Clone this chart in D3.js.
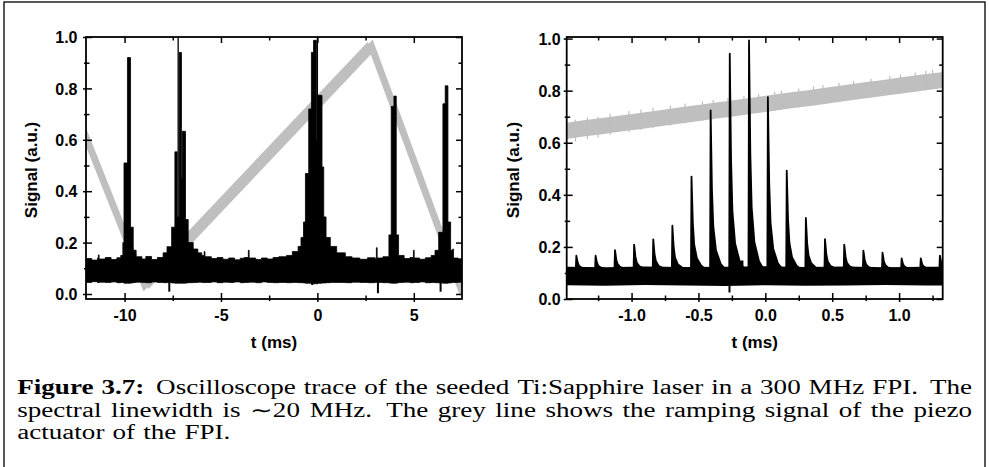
<!DOCTYPE html>
<html>
<head>
<meta charset="utf-8">
<script src="https://cdn.jsdelivr.net/npm/d3@7/dist/d3.min.js"></script>
<style>
html,body{margin:0;padding:0;background:#fff;}
svg{display:block;}
</style>
</head>
<body>
<svg id="fig" width="989" height="467"></svg>
<script>
// ===================== DATA =====================
// shared y ticks
const yMajorTicks = [0.0, 0.2, 0.4, 0.6, 0.8, 1.0];
const yMinorTicks = [0.1, 0.3, 0.5, 0.7, 0.9];

// ---------- left panel (t in ms) ----------
const leftXDomain = [-12, 7.5];
const leftYDomain = [-0.0195, 1.0];
const leftXMajorTicks = [-10, -5, 0, 5];
const leftXMinorTicks = [-7.5, -2.5, 2.5];
// grey piezo ramp (vertices)
const leftRampT = [-12.3, -8.95, 2.8, 7.55];
const leftRampV = [0.667, 0.035, 0.965, 0.0];
// black oscilloscope trace: min/max envelope (step after each t)
const leftEnvT = [-12.0, -11.7, -11.4, -11.36, -11.32, -11.0, -10.7, -10.4, -10.2, -10.09, -10.05, -10.03, -9.85, -9.69, -9.55, -9.4, -9.1, -8.9, -8.6, -8.3, -8.0, -7.8, -7.56, -7.39, -7.27, -7.17, -7.05, -7.01, -6.84, -6.70, -6.44, -6.2, -6.0, -5.87, -5.83, -5.5, -5.2, -4.9, -4.6, -4.3, -4.0, -3.8, -3.58, -3.54, -3.2, -2.9, -2.6, -2.3, -2.0, -1.6, -1.3, -1.0, -0.85, -0.72, -0.62, -0.45, -0.31, -0.2, -0.05, 0.03, 0.24, 0.33, 0.45, 0.67, 1.0, 1.45, 1.8, 2.2, 2.6, 3.0, 3.06, 3.1, 3.4, 3.71, 3.83, 3.97, 4.09, 4.21, 4.5, 4.8, 4.98, 5.02, 5.3, 5.6, 5.9, 6.1, 6.29, 6.51, 6.63, 6.77, 6.91, 7.02, 7.06, 7.3, 7.5];
const leftEnvHi = [0.138, 0.132, 0.140, 0.152, 0.136, 0.142, 0.134, 0.141, 0.150, 0.200, 0.160, 0.510, 0.920, 0.260, 0.170, 0.145, 0.136, 0.146, 0.134, 0.142, 0.160, 0.184, 0.260, 0.553, 0.300, 0.940, 0.450, 0.633, 0.290, 0.200, 0.175, 0.160, 0.150, 0.165, 0.145, 0.138, 0.142, 0.135, 0.140, 0.133, 0.139, 0.142, 0.170, 0.140, 0.134, 0.140, 0.136, 0.142, 0.145, 0.150, 0.165, 0.185, 0.220, 0.280, 0.469, 0.720, 0.940, 0.987, 0.600, 0.773, 0.494, 0.300, 0.220, 0.185, 0.160, 0.145, 0.140, 0.135, 0.141, 0.136, 0.180, 0.140, 0.145, 0.230, 0.730, 0.770, 0.230, 0.150, 0.138, 0.142, 0.170, 0.140, 0.135, 0.141, 0.150, 0.170, 0.240, 0.740, 0.810, 0.280, 0.170, 0.175, 0.140, 0.137, 0.137];
const leftEnvLo = [0.045, 0.048, 0.044, 0.044, 0.046, 0.045, 0.047, 0.044, 0.045, 0.044, 0.044, 0.042, 0.042, 0.043, 0.045, 0.046, 0.045, 0.044, 0.047, 0.045, 0.044, 0.045, 0.043, 0.042, 0.042, 0.042, 0.043, 0.042, 0.043, 0.044, 0.045, 0.046, 0.045, 0.044, 0.045, 0.047, 0.044, 0.046, 0.045, 0.047, 0.044, 0.045, 0.045, 0.046, 0.044, 0.047, 0.045, 0.044, 0.045, 0.044, 0.045, 0.044, 0.044, 0.043, 0.042, 0.042, 0.040, 0.040, 0.040, 0.042, 0.043, 0.043, 0.044, 0.045, 0.045, 0.044, 0.046, 0.045, 0.044, 0.046, 0.045, 0.045, 0.044, 0.043, 0.042, 0.042, 0.043, 0.045, 0.046, 0.044, 0.044, 0.045, 0.047, 0.044, 0.045, 0.044, 0.043, 0.042, 0.042, 0.043, 0.044, 0.045, 0.045, 0.046, 0.046];
// thin full-height spikes
const leftSpikeT = [-7.22, 0.0];
const leftSpikeV = [1.02, 1.02];
// downward glitches
const leftDipT = [-7.68, -0.27, 3.14, 6.39];
const leftDipV = [0.009, 0.035, 0.003, 0.009];

// ---------- right panel (t in ms) ----------
const rightXDomain = [-1.485, 1.326];
const rightYDomain = [0, 1.006];
const rightXMajorTicks = [-1.0, -0.5, 0.0, 0.5, 1.0];
const rightXMinorTicks = [-1.25, -0.75, -0.25, 0.25, 0.75, 1.25];
// grey ramp band
const rightRampT  = [-1.485, -1.36, -1.22, -1.08, -0.94, -0.80, -0.66, -0.52, -0.38, -0.24, -0.10, 0.04, 0.18, 0.32, 0.46, 0.60, 0.74, 0.88, 1.02, 1.16, 1.30, 1.326];
const rightRampHi = [0.677, 0.686, 0.695, 0.705, 0.714, 0.724, 0.734, 0.744, 0.754, 0.763, 0.773, 0.783, 0.793, 0.802, 0.812, 0.822, 0.832, 0.841, 0.851, 0.861, 0.870, 0.872];
const rightRampLo = [0.614, 0.624, 0.633, 0.643, 0.652, 0.662, 0.672, 0.682, 0.692, 0.701, 0.711, 0.721, 0.731, 0.740, 0.750, 0.760, 0.770, 0.779, 0.789, 0.799, 0.808, 0.810];
// hair-line noise on the grey band edges
const rightRampHairT = [-1.42, -1.33, -1.25, -1.16, -1.02, -0.93, -0.84, -0.71, -0.60, -0.47, -0.39, -0.28, -0.16, -0.05, 0.07, 0.12, 0.25, 0.36, 0.43, 0.55, 0.66, 0.79, 0.93, 1.01, 1.12, 1.20, 1.25];
const rightRampHairV = [0.688, 0.697, 0.700, 0.712, 0.722, 0.728, 0.735, 0.742, 0.751, 0.759, 0.764, 0.772, 0.780, 0.787, 0.796, 0.801, 0.808, 0.817, 0.822, 0.830, 0.838, 0.846, 0.857, 0.862, 0.870, 0.876, 0.880];
const rightRampHairLoV = [0.605, 0.614, 0.62, 0.63, 0.64, 0.65, 0.656, 0.665, 0.675, 0.684, 0.69, 0.697, 0.706, 0.714, 0.722, 0.727, 0.735, 0.743, 0.749, 0.757, 0.765, 0.774, 0.783, 0.789, 0.796, 0.802, 0.806];
// black baseline band
const rightBandT  = [-1.485, -1.2, -0.9, -0.6, -0.3, 0.0, 0.3, 0.6, 0.9, 1.2, 1.326];
const rightBandHi = [0.124, 0.122, 0.125, 0.123, 0.124, 0.126, 0.123, 0.125, 0.122, 0.124, 0.124];
const rightBandLo = [0.053, 0.051, 0.054, 0.052, 0.050, 0.053, 0.051, 0.052, 0.054, 0.052, 0.052];
// FPI transmission peaks
const rightPeakT = [-1.413, -1.269, -1.124, -0.981, -0.838, -0.695, -0.552, -0.409, -0.266, -0.122, 0.019, 0.160, 0.303, 0.446, 0.590, 0.733, 0.876, 1.019, 1.162, 1.305];
const rightPeakV = [0.166, 0.166, 0.188, 0.209, 0.229, 0.282, 0.470, 0.724, 0.942, 0.993, 0.775, 0.493, 0.311, 0.230, 0.209, 0.186, 0.178, 0.156, 0.156, 0.166];
// peak profile (offset in ms, fraction of peak height)
const peakTailDt = [-0.004, 0.0, 0.01, 0.02, 0.04, 0.075, 0.11];
const peakTailFrac = [0, 1, 0.5, 0.27, 0.12, 0.035, 0];
const rightDipT = [-0.268];
const rightDipV = [0.025];
const rightBumpT = [-0.175];
const rightBumpV = [0.148];

// ---------- caption ----------
const captionLine1 = ["Figure", "3.7:", "Oscilloscope", "trace", "of", "the", "seeded", "Ti:Sapphire", "laser", "in", "a", "300", "MHz", "FPI.", "The"];
const captionLine1Bold = 2;
const captionLine2 = ["spectral", "linewidth", "is", "\u223C20", "MHz.", "The", "grey", "line", "shows", "the", "ramping", "signal", "of", "the", "piezo"];
const captionLine3 = ["actuator", "of", "the", "FPI."];

// ===================== DRAWING =====================
const svg = d3.select('#fig');
const GREY = '#bfbfbf';
const SANS = "'Liberation Sans', Arial, Helvetica, sans-serif";

// outer figure frame
svg.append('rect').attr('x', 4).attr('y', 2).attr('width', 981).attr('height', 490)
  .attr('fill', 'none').attr('stroke', '#111').attr('stroke-width', 1.4);

function makePanel(id, xDomain, yDomain, xRange) {
  const x = d3.scaleLinear().domain(xDomain).range(xRange);
  const y = d3.scaleLinear().domain(yDomain).range([299, 37]);
  const g = svg.append('g');
  const defs = svg.append('defs');
  defs.append('clipPath').attr('id', id).append('rect')
    .attr('x', xRange[0]).attr('y', 37).attr('width', xRange[1] - xRange[0]).attr('height', 262);
  const plot = g.append('g').attr('clip-path', `url(#${id})`);
  return {x, y, g, plot};
}

function drawAxes(P, o) {
  const {x, y, g} = P;
  const [x0, x1] = x.range();
  const yb = 299, yt = 37;
  const styleText = sel => sel.selectAll('.tick text')
    .attr('font-family', SANS).attr('font-size', 16).attr('font-weight', 'bold').attr('fill', '#000');
  const clean = sel => { sel.select('.domain').remove(); sel.attr('font-family', null).attr('font-size', null); };

  const bx = g.append('g').attr('transform', `translate(0,${yb})`)
    .call(d3.axisBottom(x).tickValues(o.xMajor).tickFormat(o.xFmt).tickSizeOuter(0));
  clean(bx);
  bx.selectAll('.tick line').attr('y1', 3).attr('y2', -6).attr('stroke-width', 1.5);
  bx.selectAll('.tick text').attr('y', 10.3).attr('dy', '0.71em');
  styleText(bx);
  const bm = g.append('g').attr('transform', `translate(0,${yb})`)
    .call(d3.axisBottom(x).tickValues(o.xMinor).tickFormat('').tickSizeOuter(0));
  clean(bm);
  bm.selectAll('.tick line').attr('y1', 2).attr('y2', -3.5).attr('stroke-width', 1.5);
  [[o.xMajor, 6], [o.xMinor, 3.5]].forEach(([vals, len]) => {
    const t = g.append('g').attr('transform', `translate(0,${yt})`)
      .call(d3.axisTop(x).tickValues(vals).tickFormat('').tickSizeInner(-len).tickSizeOuter(0));
    clean(t);
    t.selectAll('.tick line').attr('stroke-width', 1.5);
  });
  const ly = g.append('g').attr('transform', `translate(${x0},0)`)
    .call(d3.axisLeft(y).tickValues(yMajorTicks).tickFormat(d => d.toFixed(1)).tickSizeOuter(0));
  clean(ly);
  ly.selectAll('.tick line').attr('x1', -3).attr('x2', 6).attr('stroke-width', 1.5);
  ly.selectAll('.tick text').attr('x', -o.yLabelGap).attr('dy', '0.36em');
  styleText(ly);
  const lm = g.append('g').attr('transform', `translate(${x0},0)`)
    .call(d3.axisLeft(y).tickValues(yMinorTicks).tickFormat('').tickSizeOuter(0));
  clean(lm);
  lm.selectAll('.tick line').attr('x1', -2).attr('x2', 3.5).attr('stroke-width', 1.5);
  [[yMajorTicks, 6], [yMinorTicks, 3.5]].forEach(([vals, len]) => {
    const r = g.append('g').attr('transform', `translate(${x1},0)`)
      .call(d3.axisRight(y).tickValues(vals).tickFormat('').tickSizeInner(-len).tickSizeOuter(0));
    clean(r);
    r.selectAll('.tick line').attr('stroke-width', 1.5);
  });
  g.append('rect').attr('x', x0).attr('y', yt).attr('width', x1 - x0).attr('height', yb - yt)
    .attr('fill', 'none').attr('stroke', '#000').attr('stroke-width', 1.8);
  g.append('text').attr('x', (x0 + x1) / 2).attr('y', 348).attr('text-anchor', 'middle')
    .attr('font-family', SANS).attr('font-size', 17).attr('font-weight', 'bold').text('t (ms)');
  g.append('text').attr('transform', `translate(${o.yTitleX},170) rotate(-90)`).attr('text-anchor', 'middle')
    .attr('font-family', SANS).attr('font-size', 17).attr('font-weight', 'bold').text('Signal (a.u.)');
}

// ---------- LEFT PANEL ----------
const L = makePanel('clipL', leftXDomain, leftYDomain, [86, 462]);
{
  const {x, y, plot} = L;
  const ramp = leftRampT.map((t, i) => [x(t), y(leftRampV[i])]);
  plot.append('path').attr('d', d3.line()(ramp)).attr('fill', 'none').attr('stroke', GREY)
    .attr('stroke-width', 7).attr('stroke-linejoin', 'miter').attr('stroke-miterlimit', 10);
  plot.append('path').attr('d', d3.line()(ramp.slice(1, 3))).attr('fill', 'none').attr('stroke', GREY)
    .attr('stroke-width', 11).attr('stroke-linecap', 'butt');

  const env = leftEnvT.map((t, i) => ({t, hi: leftEnvHi[i], lo: leftEnvLo[i]}));
  plot.append('path').datum(env)
    .attr('d', d3.area().curve(d3.curveStepAfter).x(d => x(d.t)).y0(d => y(d.lo)).y1(d => y(d.hi)))
    .attr('fill', '#000').attr('stroke', '#000').attr('stroke-width', 0.8);
  plot.selectAll('line.spk').data(leftSpikeT).join('line').attr('class', 'spk')
    .attr('x1', d => x(d)).attr('x2', d => x(d)).attr('y1', y(0.12)).attr('y2', (d, i) => y(leftSpikeV[i]))
    .attr('stroke', '#000').attr('stroke-width', 1.3);
  plot.selectAll('line.dip').data(leftDipT).join('line').attr('class', 'dip')
    .attr('x1', d => x(d)).attr('x2', d => x(d)).attr('y1', y(0.06)).attr('y2', (d, i) => y(leftDipV[i]))
    .attr('stroke', '#000').attr('stroke-width', 2);
}
drawAxes(L, {xMajor: leftXMajorTicks, xMinor: leftXMinorTicks, xFmt: d => String(d), yLabelGap: 8.5, yTitleX: 37});

// ---------- RIGHT PANEL ----------
const R = makePanel('clipR', rightXDomain, rightYDomain, [566.7, 942.7]);
{
  const {x, y, plot} = R;
  const ramp = rightRampT.map((t, i) => ({t, hi: rightRampHi[i], lo: rightRampLo[i]}));
  plot.append('path').datum(ramp)
    .attr('d', d3.area().x(d => x(d.t)).y0(d => y(d.lo)).y1(d => y(d.hi)))
    .attr('fill', GREY);
  plot.selectAll('line.rh').data(rightRampHairT).join('line').attr('class', 'rh')
    .attr('x1', d => x(d)).attr('x2', d => x(d))
    .attr('y1', (d, i) => y(rightRampHairV[i])).attr('y2', (d, i) => y(rightRampHairLoV[i]))
    .attr('stroke', GREY).attr('stroke-width', 1.2);

  const band = rightBandT.map((t, i) => ({t, hi: rightBandHi[i], lo: rightBandLo[i]}));
  plot.append('path').datum(band)
    .attr('d', d3.area().x(d => x(d.t)).y0(d => y(d.lo)).y1(d => y(d.hi)))
    .attr('fill', '#000');
  const base = d3.mean(rightBandHi);
  const line = d3.line();
  rightPeakT.forEach((t0, i) => {
    const v = rightPeakV[i];
    const pts = peakTailDt.map((dt, j) => [x(t0 + dt), y(base - 0.01 + peakTailFrac[j] * (v - base + 0.01))]);
    plot.append('path').attr('d', line(pts) + 'Z').attr('fill', '#000').attr('stroke', '#000')
      .attr('stroke-width', 1.8).attr('stroke-linejoin', 'round');
  });
  plot.selectAll('line.bump').data(rightBumpT).join('line').attr('class', 'bump')
    .attr('x1', d => x(d)).attr('x2', d => x(d)).attr('y1', y(base)).attr('y2', (d, i) => y(rightBumpV[i]))
    .attr('stroke', '#000').attr('stroke-width', 3);
  plot.selectAll('line.dip').data(rightDipT).join('line').attr('class', 'dip')
    .attr('x1', d => x(d)).attr('x2', d => x(d)).attr('y1', y(0.06)).attr('y2', (d, i) => y(rightDipV[i]))
    .attr('stroke', '#000').attr('stroke-width', 2);
}
drawAxes(R, {xMajor: rightXMajorTicks, xMinor: rightXMinorTicks, xFmt: d => d.toFixed(1), yLabelGap: 6, yTitleX: 519});

// ---------- CAPTION ----------
const CAP_FONT = "'Liberation Serif', 'Times New Roman', serif";
const CAP_SIZE = 20;
const capG = svg.append('g');
function measure(word, bold) {
  const t = capG.append('text').attr('font-family', CAP_FONT).attr('font-size', CAP_SIZE)
    .attr('font-weight', bold ? 'bold' : 'normal').text(word);
  const w = t.node().getComputedTextLength();
  t.remove();
  return w;
}
const capLeft = 17.3, capRight = 972, line3Width = 213;
const space = 0.3 * CAP_SIZE;
const w3 = captionLine3.map(w => measure(w, false));
const k = line3Width / (d3.sum(w3) + space * (w3.length - 1));

function placeLine(words, nBold, baseline, justify) {
  const widths = words.map((w, i) => measure(w, i < nBold));
  const gaps = words.slice(0, -1).map(w => /[.:]$/.test(w) ? 1.5 : 1);
  let unit = space;
  if (justify) {
    const total = (capRight - capLeft) / k;
    unit = (total - d3.sum(widths)) / d3.sum(gaps);
  }
  const lg = capG.append('g').attr('transform', `translate(${capLeft},${baseline}) scale(${k},1)`);
  let xpos = 0;
  words.forEach((w, i) => {
    lg.append('text').attr('x', xpos).attr('y', 0)
      .attr('font-family', CAP_FONT).attr('font-size', CAP_SIZE)
      .attr('font-weight', i < nBold ? 'bold' : 'normal').attr('fill', '#000').text(w);
    xpos += widths[i] + (i < gaps.length ? gaps[i] * unit : 0);
  });
}
placeLine(captionLine1, captionLine1Bold, 394, true);
placeLine(captionLine2, 0, 416.5, true);
placeLine(captionLine3, 0, 439, false);
</script>
</body>
</html>
